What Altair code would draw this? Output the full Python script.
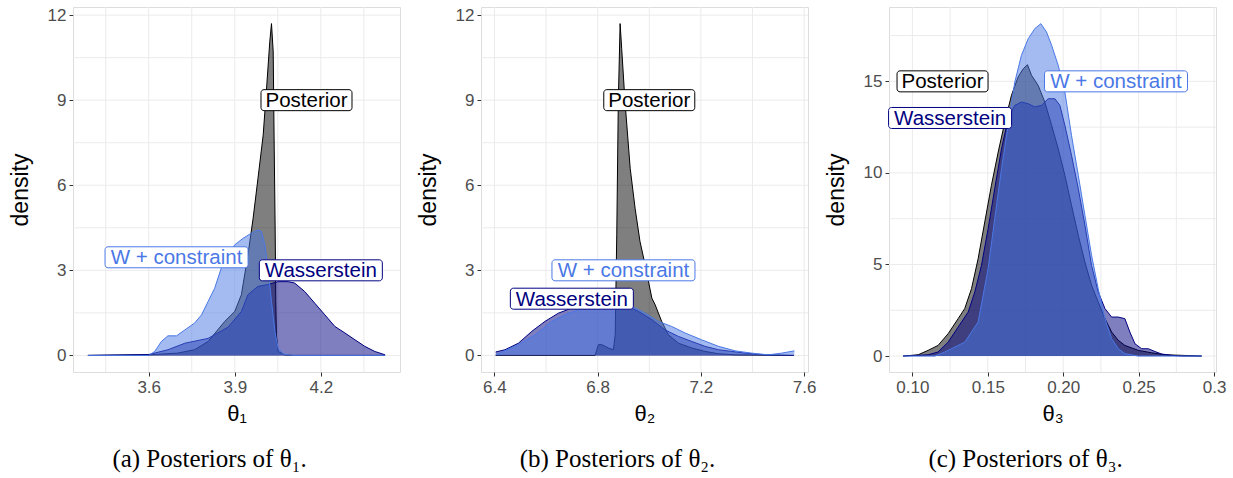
import altair as alt
import pandas as pd

# ---------------- data ----------------
# Panel (a): theta_1
p1_post_x = [3.388, 3.60, 3.70, 3.76, 3.807, 3.865, 3.90, 3.923, 3.946, 3.964, 3.981, 3.999, 4.01, 4.022, 4.028,
             4.034, 4.037, 4.041, 4.043, 4.045, 4.051, 4.074, 4.10, 4.424]
p1_post_y = [0.0, 0.02, 0.08, 0.2, 0.49, 1.2, 1.55, 2.14, 3.55, 4.84, 6.25, 7.77, 9.3, 11.06, 11.7,
             10.7, 7.77, 4.25, 1.9, 0.73, 0.14, 0.02, 0.0, 0.0]
p1_wass_x = [3.388, 3.60, 3.667, 3.726, 3.807, 3.877, 3.923, 3.946, 3.98, 4.016, 4.051, 4.086, 4.109, 4.144,
             4.179, 4.214, 4.249, 4.284, 4.319, 4.353, 4.388, 4.424]
p1_wass_y = [0.0, 0.03, 0.2, 0.43, 0.6, 1.0, 1.55, 2.14, 2.43, 2.5, 2.6, 2.6, 2.55, 2.25,
             1.84, 1.43, 1.02, 0.79, 0.55, 0.32, 0.14, 0.02]
p1_wc_x = [3.388, 3.60, 3.621, 3.644, 3.667, 3.697, 3.726, 3.76, 3.784, 3.807, 3.83, 3.853, 3.877, 3.90, 3.929,
           3.958, 3.981, 3.993, 4.005, 4.016, 4.028, 4.04, 4.051, 4.069, 4.098, 4.424]
p1_wc_y = [0.0, 0.0, 0.14, 0.49, 0.69, 0.69, 0.9, 1.14, 1.43, 1.9, 2.37, 3.08, 3.55, 3.9, 4.13,
           4.31, 4.43, 4.37, 3.9, 3.08, 1.9, 0.85, 0.26, 0.05, 0.0, 0.0]

# Panel (b): theta_2
p2_post_x = [6.405, 6.79, 6.803, 6.816, 6.842, 6.861, 6.868, 6.874, 6.88, 6.887, 6.893, 6.906, 6.926, 6.945,
             6.964, 6.984, 7.01, 7.023, 7.048, 7.074, 7.113, 7.165, 7.216, 7.268, 7.333, 7.56]
p2_post_y = [0.0, 0.0, 0.38, 0.38, 0.26, 0.2, 0.73, 4.25, 8.95, 11.7, 10.83, 8.95, 6.6, 5.19,
             4.02, 3.19, 2.02, 1.78, 1.2, 0.73, 0.43, 0.26, 0.14, 0.06, 0.02, 0.0]
p2_wass_x = [6.405, 6.441, 6.493, 6.545, 6.596, 6.648, 6.70, 6.751, 6.803, 6.855, 6.906, 6.958, 7.01, 7.061,
             7.113, 7.165, 7.216, 7.268, 7.32, 7.371, 7.449, 7.56]
p2_wass_y = [0.12, 0.2, 0.43, 0.85, 1.2, 1.49, 1.67, 1.73, 1.84, 1.84, 1.78, 1.55, 1.26, 0.9,
             0.67, 0.49, 0.32, 0.2, 0.14, 0.08, 0.02, 0.0]
p2_wc_x = [6.405, 6.493, 6.558, 6.622, 6.687, 6.751, 6.816, 6.88, 6.932, 6.984, 7.035, 7.087, 7.139, 7.203,
           7.268, 7.333, 7.397, 7.462, 7.513, 7.562]
p2_wc_y = [0.02, 0.38, 0.73, 1.2, 1.49, 1.67, 1.73, 1.73, 1.73, 1.49, 1.2, 1.02, 0.79, 0.55,
           0.32, 0.16, 0.08, 0.02, 0.08, 0.16]

# Panel (c): theta_3
p3_post_x = [0.0938, 0.1038, 0.1104, 0.117, 0.1237, 0.1303, 0.1347, 0.1392, 0.1436, 0.148, 0.1524, 0.1569,
             0.1613, 0.1657, 0.1701, 0.1735, 0.1763, 0.179, 0.1834, 0.1878, 0.1923, 0.1967, 0.2011, 0.2055,
             0.21, 0.2144, 0.2188, 0.2232, 0.2277, 0.2321, 0.2365, 0.2409, 0.2498, 0.2586, 0.2675, 0.2785, 0.2918]
p3_post_y = [0.0, 0.07, 0.31, 0.58, 1.22, 2.04, 2.59, 3.68, 5.32, 7.32, 9.32, 11.14,
             12.78, 14.24, 15.24, 15.69, 15.91, 15.33, 14.78, 13.87, 12.6, 11.32, 9.87, 8.23,
             6.59, 5.13, 3.86, 2.95, 2.04, 1.31, 0.86, 0.58, 0.31, 0.18, 0.07, 0.04, 0.0]
p3_wass_x = [0.0938, 0.1104, 0.117, 0.1237, 0.1303, 0.137, 0.1414, 0.1458, 0.1502, 0.1546, 0.1591, 0.1635,
             0.1679, 0.1723, 0.1768, 0.1812, 0.1856, 0.19, 0.1945, 0.1978, 0.2011, 0.2055, 0.21, 0.2144,
             0.2188, 0.2232, 0.2277, 0.2321, 0.2365, 0.2409, 0.2442, 0.2476, 0.252, 0.2564, 0.2608, 0.2653,
             0.2719, 0.2785, 0.2918]
p3_wass_y = [0.0, 0.07, 0.22, 0.76, 1.58, 2.4, 3.5, 4.95, 6.95, 9.14, 11.32, 12.96,
             13.69, 13.87, 13.78, 13.6, 13.69, 14.05, 14.05, 13.69, 12.6, 10.96, 9.14, 7.14,
             4.95, 3.5, 2.59, 2.13, 2.13, 2.04, 1.31, 0.67, 0.4, 0.4, 0.25, 0.11,
             0.04, 0.0, 0.0]
p3_wc_x = [0.0938, 0.115, 0.1215, 0.1347, 0.1436, 0.1502, 0.1546, 0.1591, 0.1635, 0.1679, 0.1723, 0.1768,
           0.1812, 0.1852, 0.1889, 0.1923, 0.1967, 0.2011, 0.2055, 0.21, 0.2144, 0.2188, 0.2232, 0.2277,
           0.2321, 0.2365, 0.2409, 0.2498, 0.2918]
p3_wc_y = [0.0, 0.0, 0.22, 0.76, 1.86, 4.77, 7.5, 10.23, 12.6, 14.96, 16.42, 17.33,
           17.88, 18.15, 17.7, 16.97, 15.87, 14.42, 12.05, 9.87, 7.68, 5.5, 3.68, 2.04,
           0.95, 0.4, 0.13, 0.0, 0.0]

# label annotations (text, x, y) per panel
label_text = ["Posterior", "W + constraint", "Wasserstein"]
p1_label_x = [4.15, 3.697, 4.2]
p1_label_y = [9.0, 3.46, 3.0]
p2_label_x = [7.0, 6.9, 6.7]
p2_label_y = [9.0, 3.0, 2.0]
p3_label_x = [0.12, 0.235, 0.125]
p3_label_y = [15.0, 15.0, 13.0]

# axis ticks & grid
p1_xticks = [3.6, 3.9, 4.2]
p1_xminor = [3.45, 3.75, 4.05, 4.35]
p2_xticks = [6.4, 6.8, 7.2, 7.6]
p2_xminor = [6.6, 7.0, 7.4]
p3_xticks = [0.10, 0.15, 0.20, 0.25, 0.30]
p3_xminor = [0.125, 0.175, 0.225, 0.275]
y12_ticks = [0, 3, 6, 9, 12]
y12_minor = [1.5, 4.5, 7.5, 10.5]
y3_ticks = [0, 5, 10, 15]
y3_minor = [2.5, 7.5, 12.5, 17.5]

captions = ["(a) Posteriors of θ₁.", "(b) Posteriors of θ₂.", "(c) Posteriors of θ₃."]
xtitles = ["θ₁", "θ₂", "θ₃"]

# ---------------- styling ----------------
W, H = 327, 365
SANS = "Liberation Sans"
COLORS = {"Posterior": "#000000", "Wasserstein": "#000080", "W + constraint": "#4A78E6"}
BOX_W = {"Posterior": 91, "W + constraint": 143, "Wasserstein": 123}
BOX_H = 21


def panel(series, lab_x, lab_y, xdom, ydom, xticks, xminor, yticks, yminor,
          xtitle, caption, xfmt, label_expr=None):
    xs = alt.Scale(domain=xdom, nice=False, zero=False)
    ys = alt.Scale(domain=ydom, nice=False, zero=False)
    xaxis = alt.Axis(values=xticks, format=xfmt, title=xtitle, grid=False, domain=False,
                     tickSize=4, tickColor="#333333", labelColor="#4D4D4D", labelFontSize=17,
                     labelFont=SANS, labelPadding=3, titleFont=SANS, titleFontSize=22,
                     titleFontWeight="normal", titleColor="#000000", titlePadding=8,
                     **({"labelExpr": label_expr} if label_expr else {}))
    yaxis = alt.Axis(values=yticks, title="density", grid=False, domain=False,
                     tickSize=4, tickColor="#333333", labelColor="#4D4D4D", labelFontSize=17,
                     labelFont=SANS, labelPadding=3, titleFont=SANS, titleFontSize=23,
                     titleFontWeight="normal", titleColor="#000000", titlePadding=15)

    def X(f):
        return alt.X(f, scale=xs, axis=xaxis, title=xtitle)

    def Y(f):
        return alt.Y(f, scale=ys, axis=yaxis, title="density")

    vgrid = alt.Chart(pd.DataFrame({"v": xticks + xminor})).mark_rule(
        color="#EBEBEB", strokeWidth=1).encode(x=X("v:Q"))
    hgrid = alt.Chart(pd.DataFrame({"v": yticks + yminor})).mark_rule(
        color="#EBEBEB", strokeWidth=1).encode(y=Y("v:Q"))
    layers = [vgrid, hgrid]
    for name, xv, yv in series:
        df = pd.DataFrame({"x": xv, "y": yv})
        c = COLORS[name]
        layers.append(alt.Chart(df).mark_area(color=c, fillOpacity=0.5, strokeWidth=0)
                      .encode(x=X("x:Q"), y=Y("y:Q")))
        layers.append(alt.Chart(df).mark_line(color=c, strokeWidth=1)
                      .encode(x=X("x:Q"), y=Y("y:Q")))
    for t, lx, ly in zip(label_text, lab_x, lab_y):
        df = pd.DataFrame({"x": [lx], "y": [ly], "t": [t]})
        layers.append(alt.Chart(df).mark_rect(width=BOX_W[t], height=BOX_H, fill="white",
                                              stroke=COLORS[t], strokeWidth=1, cornerRadius=3)
                      .encode(x=X("x:Q"), y=Y("y:Q")))
        layers.append(alt.Chart(df).mark_text(font=SANS, fontSize=20.5, color=COLORS[t],
                                              baseline="middle", align="center", dy=1)
                      .encode(text="t:N", x=X("x:Q"), y=Y("y:Q")))
    cap = alt.Chart(pd.DataFrame({"c": [caption]})).mark_text(
        font="Liberation Serif", fontSize=25, color="#000000", baseline="middle", align="center"
    ).encode(text="c:N", x=alt.value(W / 2 - 27), y=alt.value(H + 87))
    layers.append(cap)
    return alt.layer(*layers).properties(width=W, height=H)


c1 = panel([("Posterior", p1_post_x, p1_post_y), ("Wasserstein", p1_wass_x, p1_wass_y),
            ("W + constraint", p1_wc_x, p1_wc_y)], p1_label_x, p1_label_y,
           [3.336, 4.476], [-0.585, 12.285], p1_xticks, p1_xminor, y12_ticks, y12_minor,
           xtitles[0], captions[0], ".1f")
c2 = panel([("Posterior", p2_post_x, p2_post_y), ("Wasserstein", p2_wass_x, p2_wass_y),
            ("W + constraint", p2_wc_x, p2_wc_y)], p2_label_x, p2_label_y,
           [6.348, 7.615], [-0.585, 12.285], p2_xticks, p2_xminor, y12_ticks, y12_minor,
           xtitles[1], captions[1], ".1f")
c3 = panel([("Posterior", p3_post_x, p3_post_y), ("Wasserstein", p3_wass_x, p3_wass_y),
            ("W + constraint", p3_wc_x, p3_wc_y)], p3_label_x, p3_label_y,
           [0.0845, 0.3013], [-0.87, 19.06], p3_xticks, p3_xminor, y3_ticks, y3_minor,
           xtitles[2], captions[2], ".2f", label_expr="datum.value >= 0.299 ? '0.3' : datum.label")

chart = alt.hconcat(c1, c2, c3, spacing=81, bounds="flush").properties(
    padding={"left": 8, "top": 5, "right": 0, "bottom": 0}
).configure_view(stroke="#8a8a8a", strokeWidth=1).configure(background="white")

chart.save("out.html", embed_options={"renderer": "svg", "actions": False})
